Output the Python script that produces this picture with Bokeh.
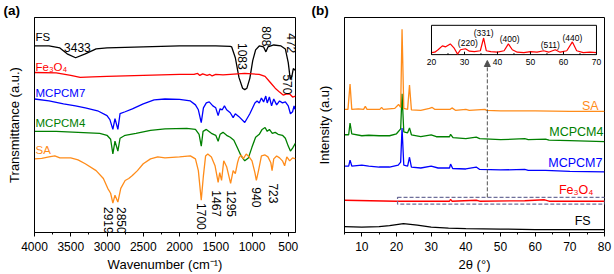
import numpy as np
from bokeh.plotting import figure
from bokeh.models import Range1d, FixedTicker, Arrow, NormalHead
from bokeh.layouts import row
from bokeh.embed import file_html
from bokeh.resources import INLINE
from bokeh.core.properties import value

FONT = "Liberation Sans"

# ---------------- panel (a): FTIR ----------------
fs_wn = [4000, 3800, 3650, 3550, 3433, 3300, 3150, 3000, 2500, 2000, 1500, 1300, 1280, 1230, 1180, 1130, 1100, 1070, 1030, 990, 950, 900, 840, 808, 780, 700, 600, 540, 500, 472, 450, 430, 400]
fs_t = [190, 190, 188, 182, 178, 182, 187, 188, 189, 190, 190, 189.5, 189, 178, 158, 147, 145.5, 147, 157, 175, 186, 190, 189, 184, 189, 191, 190, 187, 173, 156, 159, 167, 165]

fe_wn = [4000, 3700, 3500, 3370, 3200, 3000, 2500, 2000, 1800, 1750, 1720, 1680, 1620, 1580, 1550, 1500, 1400, 1300, 1100, 900, 820, 750, 680, 620, 570, 530, 480, 440, 400]
fe_t = [163, 162.5, 160, 158, 158.5, 159, 160, 161, 161, 162, 160, 161.5, 160, 161, 159.5, 161, 160.5, 161, 162, 161, 159, 153, 147, 143, 140, 141, 141, 138, 139]

m7_wn = [4000, 3800, 3600, 3435, 3300, 3130, 3000, 2960, 2919, 2890, 2850, 2820, 2750, 2650, 2500, 2350, 2200, 2000, 1850, 1780, 1740, 1700, 1670, 1630, 1590, 1540, 1500, 1467, 1440, 1410, 1380, 1350, 1300, 1260, 1230, 1180, 1100, 1030, 960, 930, 900, 870, 840, 810, 790, 760, 730, 700, 660, 620, 580, 540, 500, 470, 440, 420, 400]
m7_t = [136, 134, 131, 129, 127, 124, 119, 115, 105, 116, 105, 121, 123, 126, 131, 135, 136, 135.5, 134, 130, 125, 112, 127, 132, 133, 129, 127, 119, 126, 125, 129, 125, 122, 117, 121, 118, 112, 121, 132, 134, 132, 137, 133, 139, 132, 138, 129, 136, 130, 134, 132, 133, 129, 121, 123, 129, 125]

m4_wn = [4000, 3700, 3400, 3100, 3000, 2950, 2919, 2890, 2850, 2820, 2750, 2600, 2400, 2200, 1900, 1780, 1730, 1700, 1675, 1630, 1560, 1500, 1467, 1440, 1400, 1350, 1300, 1250, 1200, 1150, 1100, 1050, 1000, 950, 900, 860, 820, 790, 760, 720, 680, 640, 580, 540, 500, 470, 440, 400]
m4_t = [103, 103, 102, 101, 99, 95, 80, 93, 83, 96, 99, 101, 104, 105.5, 106, 105, 100, 88, 103, 105, 101, 99, 93, 100, 102, 99, 97, 94, 86, 78, 73, 76, 87, 97, 100, 105, 107, 103, 105, 101, 102, 100, 99, 96, 88, 83, 86, 91]

sa_wn = [4000, 3900, 3800, 3720, 3650, 3500, 3400, 3300, 3150, 3050, 2990, 2950, 2919, 2890, 2850, 2810, 2750, 2700, 2650, 2580, 2500, 2400, 2300, 2200, 2000, 1850, 1780, 1740, 1700, 1670, 1640, 1610, 1560, 1510, 1467, 1445, 1420, 1390, 1350, 1295, 1260, 1230, 1200, 1180, 1150, 1120, 1080, 1040, 1000, 960, 940, 910, 870, 820, 780, 740, 723, 700, 660, 620, 580, 550, 520, 480, 440, 400]
sa_t = [75, 75.5, 77, 78, 76, 76, 74, 70, 63, 55, 45, 40, 30, 38, 31, 45, 53, 55, 58, 63, 70, 75, 77, 76, 77, 78, 75, 63, 33, 58, 78, 80, 77, 68, 51, 61, 53, 73, 67, 50, 63, 60, 71, 76, 79, 75, 80, 77, 73, 61, 53, 63, 78, 79, 77, 71, 63, 75, 78, 76, 73, 68, 77, 73, 76, 75]

a_ticks = [4000, 3500, 3000, 2500, 2000, 1500, 1000, 500]
a_minor = [3750, 3250, 2750, 2250, 1750, 1250, 750]

a_names = ["FS", "Fe\u2083O\u2084", "MCPCM7", "MCPCM4", "SA"]
a_name_y = [199.5, 168.5, 142, 111.5, 84.5]
colors = ["#000000", "#ff0000", "#0000ff", "#008000", "#ff8c1a"]

# peak annotations (a)
a_peak_text = ["808", "472", "1083", "570", "2919", "2850", "1700", "1467", "1295", "940", "723"]
a_peak_x = [805, 461, 1129, 509, 2980, 2795, 1700, 1487, 1287, 943, 709]
a_peak_y = [210, 203, 193, 161, 26, 26, 30, 43, 43, 46, 50]

# ---------------- panel (b): XRD ----------------
sa_2t = [5, 6.0, 6.6, 7.1, 9, 10.5, 11, 11.5, 15.2, 15.7, 16.2, 19.5, 20.6, 21.2, 21.6, 22.1, 23.2, 23.75, 24.3, 27, 29.5, 30.3, 31, 35.5, 36, 37, 40, 41, 45.5, 46, 50, 60, 70, 80]
sa_i = [126, 126, 152, 126, 126.5, 126, 129, 126, 126, 128, 126, 127, 131, 128, 208, 127, 126, 151, 125.5, 125, 127, 128, 126, 126, 127.5, 125, 126, 125, 126, 125, 124.5, 124.5, 124, 124]

m4_2t = [5, 6.2, 6.6, 7.1, 10, 12, 15, 18, 20, 21.2, 21.6, 22.1, 23.2, 23.75, 24.3, 27, 30, 31.5, 35.3, 35.6, 36.3, 40, 43, 44, 50, 57, 58, 63, 64, 70, 80]
m4_i = [100, 100, 112, 101, 99, 99.5, 99, 99, 101, 106, 142, 103, 102, 107, 100, 98, 100, 98, 98, 100.5, 97, 96, 97.5, 96, 95, 96, 95, 95.5, 94.5, 94, 93]

m7_2t = [5, 6.2, 6.6, 7.1, 10, 12, 15, 18, 20.5, 21.2, 21.6, 22.1, 23.2, 23.75, 24.3, 27, 30, 32, 35.3, 35.6, 36.2, 40, 43, 44, 50, 57, 58, 63, 70, 80]
m7_i = [68, 68, 74, 68, 69, 68, 67, 67, 69, 72, 107, 69, 68, 77, 67, 66, 68, 66, 66, 70, 65.5, 65, 67, 64.5, 64, 64.5, 63.5, 63.5, 62.5, 62]

fe_2t = [5, 20, 30, 35.3, 35.6, 36, 43, 44, 57, 62.7, 64, 80]
fe_i = [33, 32, 32, 32, 34, 32, 33, 32, 32.5, 33.5, 32, 32]

fs_2t = [5, 10, 15, 18, 22, 26, 30, 35, 40, 50, 60, 70, 80]
fs_i = [6, 5.5, 6, 7, 9, 7.5, 5.5, 4.5, 4, 3.5, 3, 3, 3]

b_ticks = [10, 20, 30, 40, 50, 60, 70, 80]
b_minor = [5, 15, 25, 35, 45, 55, 65, 75]

b_names = ["SA", "MCPCM4", "MCPCM7", "Fe\u2083O\u2084", "FS"]
b_name_x = [78.3, 79.7, 79.4, 76.8, 76.0]
b_name_y = [129, 102.5, 71, 44, 11.5]
b_colors = ["#ff8c1a", "#008000", "#0000ff", "#ff0000", "#000000"]

# zoom box and arrow (b)
box_2t = [20.3, 80]
box_i = [29, 36]
arrow_2t = 46.2
arrow_i = [36, 176]

# inset (Fe3O4 zoom)
ins_2t = [20, 21, 22, 23.3, 24.3, 25.7, 26.8, 27.9, 28.8, 30.3, 31.5, 33, 34.8, 35.8, 36.6, 38, 40, 42, 43.3, 44.5, 46, 48, 50, 52, 54, 55.5, 57.5, 59, 61, 62.7, 64, 66, 68, 70]
ins_i = [2, 2.5, 5, 9, 8, 11, 7, 0.5, 5, 6, 3.5, 3, 4, 17, 4, 3, 2.5, 4, 11, 5, 2.5, 2, 3, 2.5, 4, 2.5, 5, 2.5, 4, 13, 4, 2, 2.5, 2]
ins_ticks = [20, 30, 40, 50, 60, 70]
ins_minor = [25, 35, 45, 55, 65]
ins_ylim = [0, 30]
ins_hkl = ["(220)", "(331)", "(400)", "(511)", "(440)"]
ins_hkl_x = [31, 35.8, 43.7, 56, 62.7]
ins_hkl_y = [12, 22, 16, 10, 17]

H = 274


def style(p, panel_label, offset):
    p.grid.visible = False
    p.outline_line_color = "black"
    p.outline_line_width = 1
    p.background_fill_color = "white"
    p.border_fill_color = "white"
    p.title.text = panel_label
    p.title.align = "left"
    p.title.offset = offset
    p.title.standoff = 0
    p.title.text_font = FONT
    p.title.text_font_size = "13.5px"
    p.title.text_font_style = "bold"
    p.title.text_color = "black"
    p.title.text_line_height = 0.7
    for ax in p.axis:
        ax.axis_line_color = "black"
        ax.major_label_text_font = FONT
        ax.major_label_text_font_size = "12px"
        ax.major_label_text_color = "black"
        ax.axis_label_text_font = FONT
        ax.axis_label_text_font_size = "13px"
        ax.axis_label_text_font_style = "normal"
        ax.axis_label_text_color = "black"
        ax.major_tick_in = 0
        ax.major_tick_out = 4
        ax.minor_tick_in = 0
        ax.minor_tick_out = 2
        ax.major_tick_line_color = "black"
        ax.minor_tick_line_color = "black"
    p.xaxis.major_label_standoff = 5
    p.xaxis.axis_label_standoff = 3
    p.yaxis.ticker = FixedTicker(ticks=[])
    p.yaxis.major_label_standoff = 0
    p.yaxis.axis_label_standoff = 13


# ----- figure a -----
pa = figure(width=310, height=H, output_backend="svg", toolbar_location=None,
            x_range=Range1d(4000, 400), y_range=Range1d(0, 219),
            min_border_left=34, min_border_right=15, min_border_top=14, min_border_bottom=41)
pa.xaxis.axis_label = "Wavenumber (cm\u207b\u00b9)"
pa.yaxis.axis_label = "Transmittance (a.u.)"
style(pa, "(a)", -31)
pa.xaxis.ticker = FixedTicker(ticks=a_ticks, minor_ticks=a_minor)

for wn, t, c in [(fs_wn, fs_t, colors[0]), (fe_wn, fe_t, colors[1]), (m7_wn, m7_t, colors[2]),
                 (m4_wn, m4_t, colors[3]), (sa_wn, sa_t, colors[4])]:
    pa.line(wn, t, line_color=c, line_width=1.3)

pa.text(x=[3986] * len(a_names), y=a_name_y, text=a_names, text_color=colors,
        text_font=value(FONT), text_font_size="11.5px", text_align="left", text_baseline="middle")
pa.text(x=[3408], y=[188.5], text=["3433"], text_color="black",
        text_font=value(FONT), text_font_size="12px", text_align="center", text_baseline="middle")
pa.text(x=a_peak_x, y=a_peak_y, text=a_peak_text, angle=-np.pi / 2, text_color="black",
        text_font=value(FONT), text_font_size="12px", text_align="left", text_baseline="middle")

# ----- figure b -----
pb = figure(width=304, height=H, output_backend="svg", toolbar_location=None,
            x_range=Range1d(5, 80), y_range=Range1d(0, 220),
            min_border_left=34, min_border_right=10, min_border_top=14, min_border_bottom=40)
pb.xaxis.axis_label = "2\u03b8 (\u00b0)"
pb.yaxis.axis_label = "Intensity (a.u)"
style(pb, "(b)", -33)
pb.xaxis.ticker = FixedTicker(ticks=b_ticks, minor_ticks=b_minor)
pb.extra_x_ranges = {"ix": Range1d(-6.36, 72.43)}
pb.extra_y_ranges = {"iy": Range1d(-182, 38)}

for xx, yy, c in [(fs_2t, fs_i, "#000000"), (fe_2t, fe_i, "#ff0000"), (m7_2t, m7_i, "#0000ff"),
                  (m4_2t, m4_i, "#008000"), (sa_2t, sa_i, "#ff8c1a")]:
    pb.line(xx, yy, line_color=c, line_width=1.3)

pb.quad(left=box_2t[0], right=box_2t[1], bottom=box_i[0], top=box_i[1], fill_alpha=0,
        line_color="#6f6f9a", line_dash="4 2", line_width=1.2)
pb.add_layout(Arrow(end=NormalHead(size=6, fill_color="#505050", line_color="#505050"),
                    x_start=arrow_2t, y_start=arrow_i[0], x_end=arrow_2t, y_end=arrow_i[1],
                    line_color="#505050", line_dash="4 2", line_width=1))

pb.text(x=b_name_x, y=b_name_y, text=b_names, text_color=b_colors,
        text_font=value(FONT), text_font_size="12.5px", text_align="right", text_baseline="middle")

# inset
pb.quad(left=ins_ticks[0], right=ins_ticks[-1], bottom=ins_ylim[0], top=ins_ylim[1],
        fill_color="white", line_color="black", line_width=1, x_range_name="ix", y_range_name="iy")
pb.line(ins_2t, ins_i, line_color="#ff0000", line_width=1.2, x_range_name="ix", y_range_name="iy")
pb.segment(x0=ins_ticks, x1=ins_ticks, y0=[ins_ylim[0]] * len(ins_ticks), y1=[ins_ylim[0] + 3] * len(ins_ticks),
           line_color="black", line_width=1, x_range_name="ix", y_range_name="iy")
pb.segment(x0=ins_minor, x1=ins_minor, y0=[ins_ylim[0]] * len(ins_minor), y1=[ins_ylim[0] + 1.5] * len(ins_minor),
           line_color="black", line_width=1, x_range_name="ix", y_range_name="iy")
pb.text(x=ins_ticks, y=[ins_ylim[0] - 4] * len(ins_ticks), text=[str(t) for t in ins_ticks],
        text_color="black", text_font=value(FONT), text_font_size="8.5px",
        text_align="center", text_baseline="top", x_range_name="ix", y_range_name="iy")
pb.text(x=ins_hkl_x, y=ins_hkl_y, text=ins_hkl, text_color="black", text_font=value(FONT),
        text_font_size="8.5px", text_align="center", text_baseline="middle",
        x_range_name="ix", y_range_name="iy")

layout = row(pa, pb)
open("out.html", "w").write(file_html(layout, INLINE))
